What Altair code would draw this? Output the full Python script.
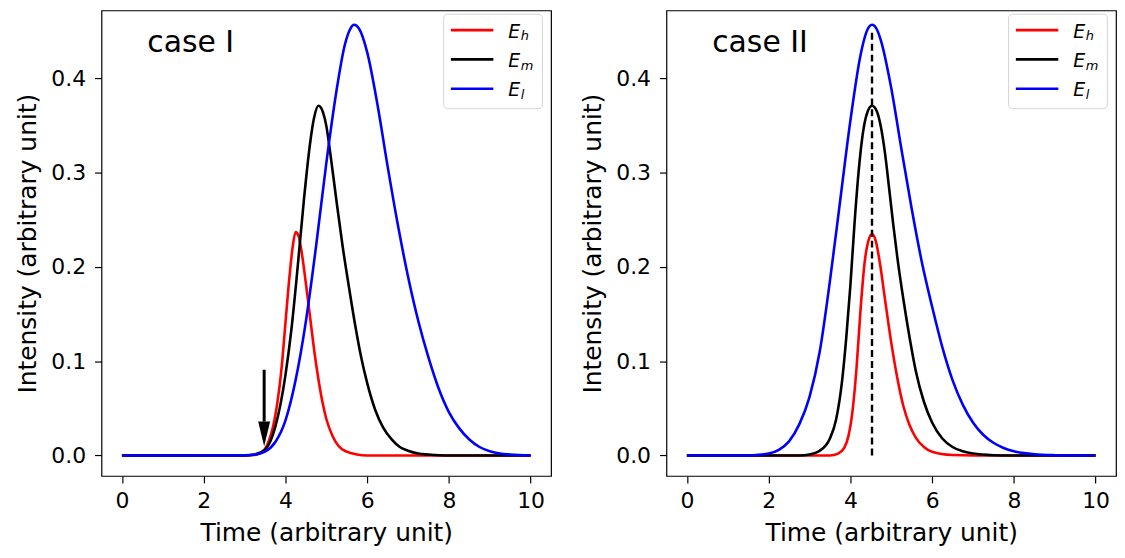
import altair as alt
import pandas as pd

# ---------------- data ----------------
SERIES = ["E_h", "E_m", "E_l"]
SUBS = ["h", "m", "l"]
COLORS = ["#ff0000", "#000000", "#0000ff"]

# case I
t1_red = [0, 2, 3.0, 3.25, 3.4, 3.5, 3.6, 3.7, 3.8, 3.9, 4.0, 4.1, 4.18, 4.25, 4.32, 4.4, 4.5, 4.6, 4.7, 4.8, 4.9, 5.0, 5.15, 5.3, 5.5, 5.75, 6.0, 8, 10]
i1_red = [0, 0, 0, 0.0005, 0.003, 0.007, 0.016, 0.031, 0.055, 0.09, 0.14, 0.19, 0.222, 0.237, 0.233, 0.215, 0.183, 0.148, 0.113, 0.083, 0.058, 0.039, 0.021, 0.010, 0.004, 0.001, 0, 0, 0]

t1_black = [0, 2, 3.0, 3.25, 3.5, 3.75, 4.0, 4.15, 4.3, 4.45, 4.6, 4.7, 4.81, 4.92, 5.0, 5.1, 5.25, 5.4, 5.55, 5.7, 5.85, 6.0, 6.2, 6.4, 6.6, 6.8, 7.0, 7.25, 7.5, 8.0, 10]
i1_black = [0, 0, 0, 0.001, 0.006, 0.03, 0.085, 0.135, 0.2, 0.27, 0.33, 0.358, 0.371, 0.364, 0.35, 0.32, 0.27, 0.222, 0.18, 0.14, 0.105, 0.077, 0.048, 0.029, 0.017, 0.009, 0.005, 0.002, 0.001, 0, 0]

t1_blue = [0, 2, 3.0, 3.25, 3.5, 3.75, 4.0, 4.25, 4.5, 4.75, 5.0, 5.25, 5.45, 5.58, 5.68, 5.8, 6.0, 6.25, 6.5, 6.75, 7.0, 7.25, 7.5, 7.75, 8.0, 8.25, 8.5, 8.75, 9.0, 9.25, 9.5, 10]
i1_blue = [0, 0, 0.0002, 0.001, 0.004, 0.014, 0.037, 0.08, 0.142, 0.222, 0.31, 0.387, 0.435, 0.452, 0.457, 0.453, 0.428, 0.373, 0.307, 0.245, 0.19, 0.143, 0.104, 0.071, 0.046, 0.029, 0.017, 0.009, 0.0045, 0.002, 0.001, 0]

# case II
t2_red = [0, 2, 3.5, 3.7, 3.85, 3.95, 4.05, 4.15, 4.25, 4.35, 4.45, 4.53, 4.62, 4.72, 4.85, 5.0, 5.15, 5.3, 5.45, 5.6, 5.8, 6.0, 6.5, 7.0, 10]
i2_red = [0, 0, 0, 0.002, 0.008, 0.02, 0.046, 0.092, 0.155, 0.205, 0.229, 0.235, 0.228, 0.205, 0.165, 0.12, 0.082, 0.052, 0.032, 0.019, 0.009, 0.004, 0.0005, 0, 0]

t2_black = [0, 2, 2.75, 3.0, 3.25, 3.5, 3.65, 3.8, 3.9, 4.0, 4.1, 4.2, 4.3, 4.4, 4.53, 4.65, 4.75, 4.85, 4.95, 5.05, 5.15, 5.3, 5.45, 5.6, 5.8, 6.0, 6.25, 6.5, 6.75, 7.0, 7.5, 8.0, 10]
i2_black = [0, 0, 0, 0.001, 0.005, 0.018, 0.038, 0.08, 0.125, 0.18, 0.245, 0.3, 0.34, 0.362, 0.371, 0.365, 0.348, 0.32, 0.283, 0.245, 0.21, 0.165, 0.125, 0.09, 0.057, 0.035, 0.018, 0.009, 0.0045, 0.002, 0.0003, 0, 0]

t2_blue = [0, 1.5, 1.75, 2.0, 2.25, 2.5, 2.75, 3.0, 3.25, 3.5, 3.75, 4.0, 4.25, 4.4, 4.53, 4.65, 4.75, 5.0, 5.25, 5.5, 5.75, 6.0, 6.25, 6.5, 6.75, 7.0, 7.25, 7.5, 7.75, 8.0, 8.25, 8.5, 9.0, 9.5, 10]
i2_blue = [0, 0, 0.0008, 0.002, 0.006, 0.015, 0.033, 0.062, 0.11, 0.185, 0.27, 0.355, 0.425, 0.45, 0.457, 0.452, 0.44, 0.39, 0.325, 0.262, 0.205, 0.158, 0.115, 0.08, 0.054, 0.035, 0.022, 0.0135, 0.008, 0.0045, 0.0025, 0.0013, 0.0003, 0, 0]

# annotations
arrow_time = [3.48]
arrow_top = [0.091]
arrow_head_base = [0.036]
arrow_tip = [0.0098]
peak_time_II = [4.53]
dash_top = [0.452]

X_TICKS = [0, 2, 4, 6, 8, 10]
Y_TICKS = [0.0, 0.1, 0.2, 0.3, 0.4]

# ---------------- layout constants ----------------
W, H = 452, 468
X_DOM = [-0.5, 10.5]
Y_DOM = [-0.0217, 0.4722]
FONT = "DejaVu Sans"

x_enc = alt.X("time:Q", scale=alt.Scale(domain=X_DOM, nice=False, zero=False),
              axis=alt.Axis(values=X_TICKS, format="d", title="Time (arbitrary unit)"))
y_enc = alt.Y("intensity:Q", scale=alt.Scale(domain=Y_DOM, nice=False, zero=False),
              axis=alt.Axis(values=Y_TICKS, format=".1f", title="Intensity (arbitrary unit)",
                            labelPadding=9, titlePadding=10))


def curve(t, v, color):
    df = pd.DataFrame({"time": t, "intensity": v})
    return alt.Chart(df).mark_line(color=color, strokeWidth=2.6, interpolate="monotone",
                                   clip=True).encode(x=x_enc, y=y_enc)


def legend_layers():
    one = pd.DataFrame({"k": [0]})
    layers = [alt.Chart(one).mark_rect(fill="white", stroke="#d4d4d4", strokeWidth=1,
                                       cornerRadius=4).encode(
        x=alt.value(344), x2=alt.value(443.3), y=alt.value(3.8), y2=alt.value(98.8))]
    rows = [19.8, 49.2, 78.8]
    for name, sub, color, ry in zip(SERIES, SUBS, COLORS, rows):
        layers.append(alt.Chart(one).mark_rule(color=color, strokeWidth=2.6).encode(
            x=alt.value(351.3), x2=alt.value(394), y=alt.value(ry)))
        layers.append(alt.Chart(one).mark_text(text="E", font=FONT, fontStyle="italic",
                                               fontSize=19, align="left", baseline="alphabetic",
                                               color="black").encode(
            x=alt.value(409), y=alt.value(ry + 7.4)))
        layers.append(alt.Chart(one).mark_text(text=sub, font=FONT, fontStyle="italic",
                                               fontSize=13, align="left", baseline="alphabetic",
                                               color="black").encode(
            x=alt.value(421.5), y=alt.value(ry + 10.2)))
    return layers


def case_label(txt):
    one = pd.DataFrame({"k": [0]})
    return alt.Chart(one).mark_text(text=txt, font=FONT, fontSize=30, align="left",
                                    baseline="alphabetic", color="black").encode(
        x=alt.value(46), y=alt.value(42))


# ---------------- panel I ----------------
arrow_df = pd.DataFrame({"time": arrow_time, "intensity": arrow_top, "intensity2": arrow_head_base})
head_df = pd.DataFrame({"time": arrow_time,
                        "intensity": [(a + b) / 2 for a, b in zip(arrow_head_base, arrow_tip)]})
shaft = alt.Chart(arrow_df).mark_rule(color="black", strokeWidth=3).encode(
    x=x_enc, y=y_enc, y2="intensity2:Q")
head = alt.Chart(head_df).mark_point(shape="M-0.48,-1L0.48,-1L0,1Z", size=625, filled=True,
                                     color="black", opacity=1, strokeWidth=0).encode(x=x_enc, y=y_enc)

panel1 = alt.layer(
    curve(t1_red, i1_red, COLORS[0]),
    curve(t1_black, i1_black, COLORS[1]),
    curve(t1_blue, i1_blue, COLORS[2]),
    shaft, head,
    *legend_layers(),
    case_label("case I"),
).properties(width=W, height=H)

# ---------------- panel II ----------------
dash_df = pd.DataFrame({"time": peak_time_II, "intensity": [0.0], "intensity2": dash_top})
dash = alt.Chart(dash_df).mark_rule(color="black", strokeWidth=2.4, strokeDash=[7, 4]).encode(
    x=x_enc, y=y_enc, y2="intensity2:Q")

panel2 = alt.layer(
    curve(t2_red, i2_red, COLORS[0]),
    curve(t2_black, i2_black, COLORS[1]),
    curve(t2_blue, i2_blue, COLORS[2]),
    dash,
    *legend_layers(),
    case_label("case II"),
).properties(width=W, height=H)

chart = alt.hconcat(panel1, panel2, spacing=116, bounds="flush").properties(
    padding={"left": 7, "top": 0, "right": 0, "bottom": 0}
).configure_view(stroke="black", strokeWidth=1.2).configure_axis(
    domain=False, grid=False, tickColor="black", tickSize=7, tickWidth=1.2,
    labelFont=FONT, labelFontSize=22, labelColor="black",
    titleFont=FONT, titleFontSize=25, titleFontWeight="normal", titleColor="black"
).configure_axisX(labelPadding=8, titlePadding=9)

chart.save("out.html", embed_options={"renderer": "svg", "actions": False})
